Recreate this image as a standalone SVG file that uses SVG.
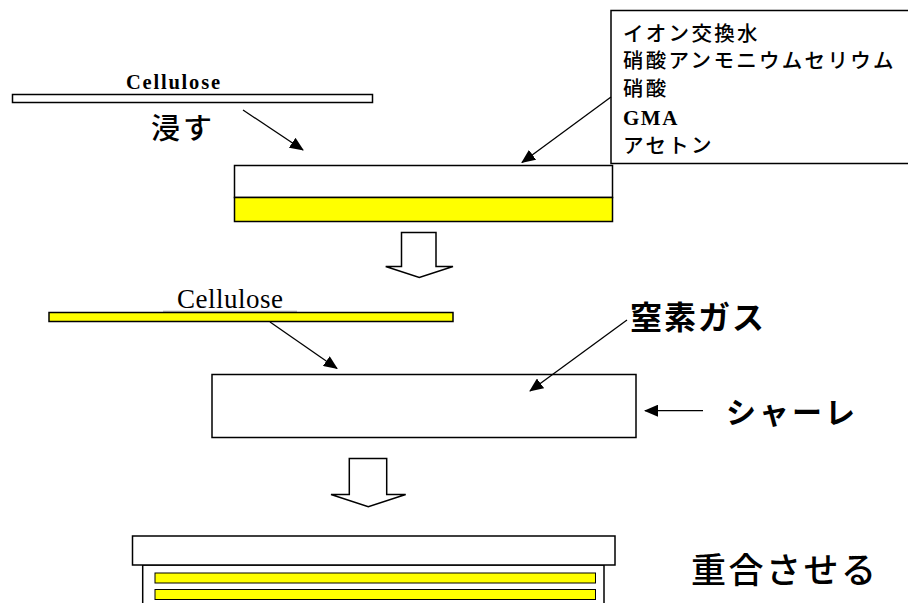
<svg xmlns="http://www.w3.org/2000/svg" width="908" height="603" viewBox="0 0 908 603">
<style>
.s{stroke:#000;stroke-width:1.5}
.w{fill:#fff}
.y{fill:#ffff00}
.jp{font-family:"Noto Sans CJK JP","Noto Sans",sans-serif;fill:#000;font-weight:500}
.jpb{font-family:"Noto Sans CJK JP","Noto Sans",sans-serif;fill:#000;font-weight:bold}
.ser{font-family:"Liberation Serif",serif;fill:#000}
.con{stroke:#000;stroke-width:1.3;fill:none}
</style>
<defs>
<marker id="ah" markerUnits="userSpaceOnUse" markerWidth="14" markerHeight="12" refX="13" refY="6" orient="auto">
<path d="M0,0 L14,6 L0,12 Z" fill="#000"/>
</marker>
</defs>
<rect width="908" height="603" fill="#fff"/>

<g id="cellulose1">
<rect x="12.5" y="94.5" width="360" height="8" class="s w"/>
<text x="126" y="89" class="ser" font-size="20.5" font-weight="bold" textLength="94" lengthAdjust="spacing">Cellulose</text>
</g>

<g id="label-hitasu">
<text x="151" y="139" class="jp" font-size="29" letter-spacing="3">浸す</text>
</g>

<g id="container1">
<rect x="234.5" y="165.5" width="378" height="32" class="s w"/>
<rect x="234.5" y="197.5" width="378" height="24" class="s y"/>
</g>

<g id="reagents">
<rect x="611" y="10.5" width="310" height="153" class="s w"/>
<text x="623" y="41" class="jp" font-size="20.5" letter-spacing="2.3">イオン交換水</text>
<text x="623" y="68" class="jp" font-size="20.5" letter-spacing="2.3">硝酸アンモニウムセリウム</text>
<text x="623" y="96" class="jp" font-size="20.5" letter-spacing="2.3">硝酸</text>
<text x="623" y="125" class="ser" font-size="21" font-weight="bold" letter-spacing="1.5">GMA</text>
<text x="623" y="153" class="jp" font-size="20.5" letter-spacing="2.3">アセトン</text>
</g>

<g id="step-arrow1">
<polygon points="401.5,232.5 436,232.5 436,266.5 453,266.5 419.3,277.5 385.7,266.5 401.5,266.5" class="s w" stroke-width="1.3"/>
</g>

<g id="cellulose2">
<rect x="49" y="312.5" width="404" height="9" class="s y"/>
<line x1="163" y1="311.3" x2="297" y2="311.3" stroke="#888" stroke-width="1"/>
<text x="177" y="308" class="ser" font-size="27" textLength="106" lengthAdjust="spacing">Cellulose</text>
</g>

<g id="petri">
<rect x="212" y="374.5" width="424" height="63" class="s w"/>
</g>

<g id="label-nitrogen">
<text x="630" y="329" class="jpb" font-size="32" letter-spacing="2">窒素ガス</text>
</g>

<g id="label-petri">
<text x="726" y="423" class="jpb" font-size="30" letter-spacing="3">シャーレ</text>
</g>

<g id="step-arrow2">
<polygon points="349.3,458.5 386.7,458.5 386.7,494.5 405.7,494.5 368.3,506.7 331,494.5 349.3,494.5" class="s w" stroke-width="1.3"/>
</g>

<g id="polymerize">
<rect x="142.7" y="565" width="461.3" height="60" class="s w"/>
<rect x="132.5" y="536" width="482.5" height="29" class="s w"/>
<rect x="155" y="573" width="440.5" height="10" class="y" stroke="#000" stroke-width="1"/>
<rect x="155" y="589.5" width="440.5" height="10" class="y" stroke="#000" stroke-width="1"/>
</g>

<g id="label-polymerize">
<text x="691" y="583" class="jp" font-size="35" letter-spacing="2.5">重合させる</text>
</g>

<g id="connectors">
<line x1="243" y1="110" x2="303" y2="150" class="con" marker-end="url(#ah)"/>
<line x1="611" y1="97" x2="522" y2="162.5" class="con" marker-end="url(#ah)"/>
<line x1="270" y1="322" x2="337" y2="368.5" class="con" marker-end="url(#ah)"/>
<line x1="627" y1="320" x2="530" y2="391" class="con" marker-end="url(#ah)"/>
<line x1="703" y1="410.7" x2="645" y2="410.7" class="con" marker-end="url(#ah)"/>
</g>
</svg>
